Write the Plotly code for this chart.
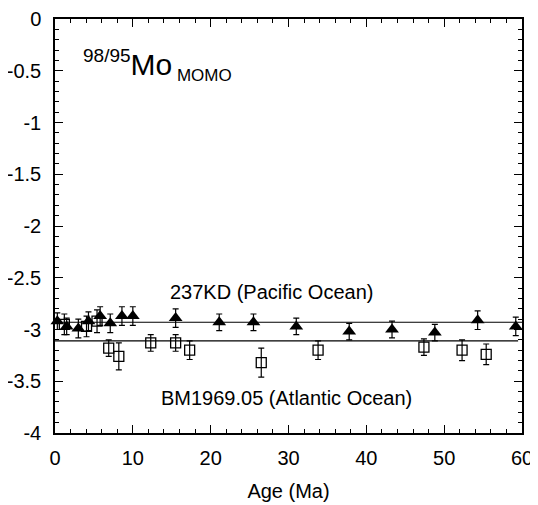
import plotly.graph_objects as go

# Pacific (237KD) – filled triangles
pac_age = [0.3, 1.5, 3.0, 4.3, 5.8, 7.1, 8.6, 10.0, 15.5, 21.1, 25.5, 31.0, 37.8, 43.3, 48.8, 54.3, 59.2]
pac_val = [-2.92, -2.97, -2.99, -2.92, -2.87, -2.94, -2.87, -2.87, -2.89, -2.93, -2.93, -2.97, -3.02, -3.00, -3.03, -2.91, -2.97]
pac_err = [0.08, 0.08, 0.09, 0.09, 0.09, 0.09, 0.09, 0.09, 0.09, 0.08, 0.08, 0.08, 0.08, 0.08, 0.08, 0.09, 0.09]

# Atlantic (BM1969.05) – open squares
atl_age = [1.2, 4.05, 5.4, 6.9, 8.2, 12.3, 15.5, 17.3, 26.5, 33.8, 47.4, 52.3, 55.4]
atl_val = [-2.95, -2.97, -2.92, -3.18, -3.26, -3.13, -3.13, -3.20, -3.32, -3.20, -3.17, -3.20, -3.24]
atl_err = [0.10, 0.10, 0.11, 0.08, 0.13, 0.08, 0.08, 0.09, 0.14, 0.09, 0.08, 0.10, 0.10]

# mean lines
mean_vals = [-2.93, -3.11]
mean_x0 = [0, 0]
mean_x1 = [60.4, 59.5]

x_ticks = [0, 10, 20, 30, 40, 50, 60]
x_ticktext = ["0", "10", "20", "30", "40", "50", "60"]
y_ticks = [0, -0.5, -1, -1.5, -2, -2.5, -3, -3.5, -4]
y_ticktext = ["0", "-0.5", "-1", "-1.5", "-2", "-2.5", "-3", "-3.5", "-4"]

FONT = "Liberation Sans, Arial, Helvetica, sans-serif"

fig = go.Figure()

for yv, x0, x1 in zip(mean_vals, mean_x0, mean_x1):
    fig.add_trace(go.Scatter(x=[x0, x1], y=[yv, yv], mode="lines",
                             line=dict(color="black", width=1.2),
                             showlegend=False, cliponaxis=False, hoverinfo="skip"))

fig.add_trace(go.Scatter(
    x=atl_age, y=atl_val, mode="markers",
    marker=dict(symbol="square-open", size=10, color="black", line=dict(width=1.3)),
    error_y=dict(type="data", array=atl_err, color="black", thickness=1.2, width=3),
    showlegend=False, cliponaxis=False))

fig.add_trace(go.Scatter(
    x=pac_age, y=pac_val, mode="markers",
    marker=dict(symbol="triangle-up", size=12, color="black"),
    error_y=dict(type="data", array=pac_err, color="black", thickness=1.2, width=3),
    showlegend=False, cliponaxis=False))

fig.add_annotation(x=27.8, y=-2.64, xref="x", yref="y", showarrow=False,
                   text="237KD (Pacific Ocean)", font=dict(size=20, color="black", family=FONT))
fig.add_annotation(x=29.8, y=-3.66, xref="x", yref="y", showarrow=False,
                   text="BM1969.05 (Atlantic Ocean)", font=dict(size=20, color="black", family=FONT))
fig.add_annotation(x=3.4, y=-0.44, xref="x", yref="y", showarrow=False, xanchor="left",
                   text="<sup><span style='font-size:19px'>98/95</span></sup>Mo<sub><span style='font-size:17px'> MOMO</span></sub>",
                   font=dict(size=30, color="black", family=FONT))

axis_common = dict(showgrid=False, zeroline=False, showline=True, linecolor="black",
                   linewidth=1.5, mirror="ticks", ticks="inside", ticklen=8,
                   tickcolor="black", tickwidth=1, automargin=False,
                   tickfont=dict(size=20, color="black", family=FONT))

fig.update_xaxes(range=[0, 60], tickmode="array", tickvals=x_ticks, ticktext=x_ticktext,
                 ticklabelstandoff=6,
                 title=dict(text="Age (Ma)", font=dict(size=20, color="black", family=FONT), standoff=16),
                 minor=dict(dtick=2, ticks="inside", ticklen=4, tickcolor="black"),
                 **axis_common)
fig.update_yaxes(range=[-4, 0], tickmode="array", tickvals=y_ticks, ticktext=y_ticktext,
                 ticklabelstandoff=8,
                 minor=dict(dtick=0.1, ticks="inside", ticklen=4, tickcolor="black"),
                 **axis_common)

fig.update_layout(width=530, height=497,
                  margin=dict(l=47, r=16, t=11, b=72),
                  paper_bgcolor="white", plot_bgcolor="white",
                  font=dict(family=FONT, color="black"))

fig.write_html("out.html")
